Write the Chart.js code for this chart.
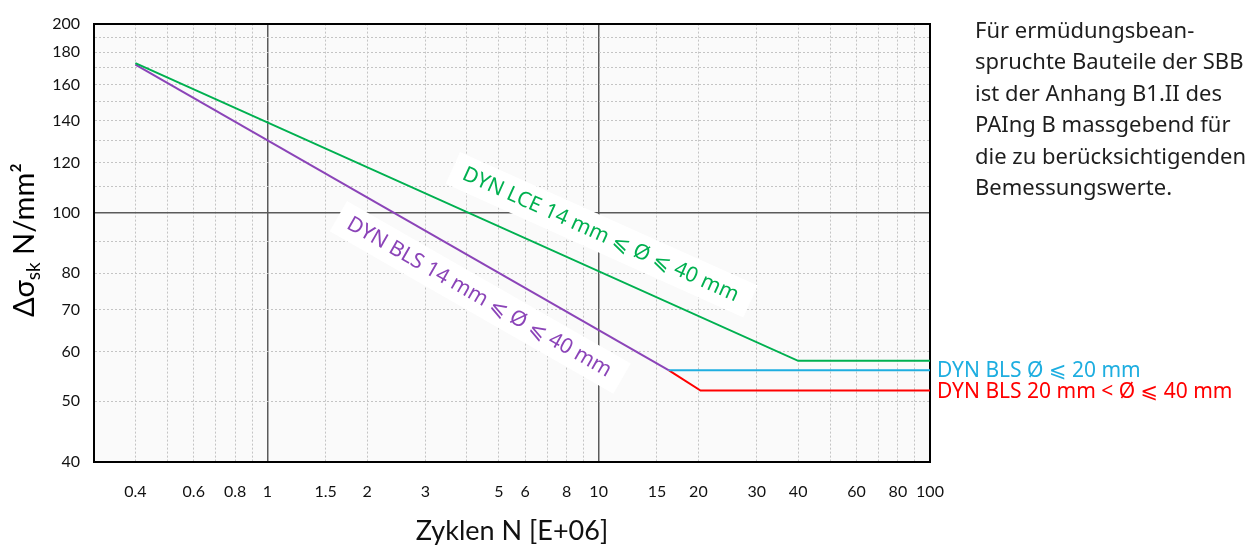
<!DOCTYPE html>
<html>
<head>
<meta charset="utf-8">
<script src="https://cdn.jsdelivr.net/npm/chart.js@4.4.1/dist/chart.umd.min.js"></script>
<style>
  html, body { margin: 0; padding: 0; background: #fff; overflow: hidden; }
  #wrap { position: relative; width: 1247px; height: 551px; overflow: hidden; }
  #note {
    position: absolute; left: 975px; top: 14px;
    font: 22px "Noto Sans", sans-serif; line-height: 31.4px;
    color: #1e1e1e; white-space: nowrap;
  }
</style>
</head>
<body>
<div id="wrap">
  <canvas id="myChart" width="1247" height="551"></canvas>
  <div id="note">Für ermüdungsbean-<br>spruchte Bauteile der SBB<br>ist der Anhang B1.II des<br>PAIng B massgebend für<br>die zu berücksichtigenden<br>Bemessungswerte.</div>
</div>
<script>
// Zyklen N [E+06] / Δσsk [N/mm²]
const lceN = [0.4, 40, 100];
const lceS = [173, 58, 58];
const blsN = [0.4, 16.3];
const blsS = [172, 56];
const bls20N = [16.3, 100];
const bls20S = [56, 56];
const bls40N = [16.3, 20.3, 100];
const bls40S = [56, 52, 52];

const xGrid = [0.4, 0.5, 0.6, 0.7, 0.8, 0.9, 1, 1.5, 2, 3, 4, 5, 6, 7, 8, 9, 10, 15, 20, 30, 40, 50, 60, 70, 80, 90, 100];
const xLabels = [0.4, 0.6, 0.8, 1, 1.5, 2, 3, 5, 6, 8, 10, 15, 20, 30, 40, 60, 80, 100];
const yGrid = [40, 50, 60, 70, 80, 90, 100, 110, 120, 130, 140, 150, 160, 170, 180, 190, 200];
const yLabels = [40, 50, 60, 70, 80, 100, 120, 140, 160, 180, 200];
const xMajor = [1, 10];
const yMajor = [100];

const GREEN = '#00b050';
const PURPLE = '#8b44b8';
const CYAN = '#1eaee0';
const RED = '#ff0000';

const pts = (xs, ys) => xs.map((x, i) => ({x: x, y: ys[i]}));

// beschriftung entlang der linien
const lineLabels = [
  {ds: 0, text: 'DYN LCE 14 mm ⩽ Ø ⩽ 40 mm', at: 9.2, off: -35, color: GREEN},
  {ds: 1, text: 'DYN BLS 14 mm ⩽ Ø ⩽ 40 mm', at: 4.85, off: 30, color: PURPLE}
];
const endLabels = [
  {ds: 2, text: 'DYN BLS Ø ⩽ 20 mm', color: CYAN},
  {ds: 3, text: 'DYN BLS 20 mm < Ø ⩽ 40 mm', color: RED}
];

const labelFont = '21px "Noto Sans", "DejaVu Sans", sans-serif';

const decoPlugin = {
  id: 'deco',
  beforeDraw(chart) {
    const {ctx, chartArea: a} = chart;
    ctx.save();
    ctx.fillStyle = '#fafafa';
    ctx.fillRect(a.left, a.top, a.right - a.left, a.bottom - a.top);
    ctx.restore();
  },
  beforeDatasetsDraw(chart) {
    const {ctx} = chart;
    const xs = chart.scales.x, ys = chart.scales.y;
    lineLabels.forEach(l => {
      const data = chart.data.datasets[l.ds].data;
      let k = 0;
      while (k < data.length - 2 && data[k + 1].x < l.at) k++;
      const p0 = {x: xs.getPixelForValue(data[k].x), y: ys.getPixelForValue(data[k].y)};
      const p1 = {x: xs.getPixelForValue(data[k + 1].x), y: ys.getPixelForValue(data[k + 1].y)};
      const ang = Math.atan2(p1.y - p0.y, p1.x - p0.x);
      const px = xs.getPixelForValue(l.at);
      const py = p0.y + (p1.y - p0.y) * (px - p0.x) / (p1.x - p0.x);
      const cx = px - Math.sin(ang) * l.off;
      const cy = py + Math.cos(ang) * l.off;
      ctx.save();
      ctx.translate(cx, cy);
      ctx.rotate(ang);
      ctx.font = labelFont;
      const w = ctx.measureText(l.text).width;
      ctx.fillStyle = '#ffffff';
      ctx.fillRect(-w / 2 - 12, -17, w + 26, 35);
      ctx.fillStyle = l.color;
      ctx.textAlign = 'center';
      ctx.textBaseline = 'middle';
      ctx.fillText(l.text, 0, 1);
      ctx.restore();
    });
  },
  afterDraw(chart) {
    const {ctx, chartArea: a} = chart;
    const ys = chart.scales.y;
    ctx.save();
    ctx.font = labelFont;
    ctx.textAlign = 'left';
    ctx.textBaseline = 'middle';
    endLabels.forEach(l => {
      const data = chart.data.datasets[l.ds].data;
      ctx.fillStyle = l.color;
      ctx.fillText(l.text, a.right + 7, ys.getPixelForValue(data[data.length - 1].y) + 1);
    });
    ctx.restore();

    // y-achsentitel mit index
    ctx.save();
    ctx.translate(34, 240);
    ctx.rotate(-Math.PI / 2);
    ctx.fillStyle = '#000';
    ctx.textBaseline = 'alphabetic';
    const big = '29px Lato, sans-serif', small = '19px Lato, sans-serif';
    ctx.font = big; const w1 = ctx.measureText('Δσ').width;
    ctx.font = small; const w2 = ctx.measureText('sk').width;
    ctx.font = big; const w3 = ctx.measureText(' N/mm²').width;
    let x0 = -(w1 + w2 + w3) / 2;
    ctx.font = big; ctx.fillText('Δσ', x0, 0); x0 += w1;
    ctx.font = small; ctx.fillText('sk', x0, 6); x0 += w2;
    ctx.font = big; ctx.fillText(' N/mm²', x0, 0);
    ctx.restore();
  }
};

const ctx = document.getElementById('myChart');
new Chart(ctx, {
  type: 'line',
  data: {
    datasets: [
      {label: 'DYN LCE', data: pts(lceN, lceS), borderColor: GREEN},
      {label: 'DYN BLS', data: pts(blsN, blsS), borderColor: PURPLE},
      {label: 'DYN BLS Ø ⩽ 20', data: pts(bls20N, bls20S), borderColor: CYAN},
      {label: 'DYN BLS 20 < Ø ⩽ 40', data: pts(bls40N, bls40S), borderColor: RED}
    ]
  },
  options: {
    responsive: false,
    animation: false,
    devicePixelRatio: 1,
    layout: {padding: {top: 19, right: 317, bottom: 0, left: 0}},
    elements: {
      line: {borderWidth: 2, tension: 0, fill: false},
      point: {radius: 0, hoverRadius: 0}
    },
    plugins: {legend: {display: false}, tooltip: {enabled: false}},
    scales: {
      x: {
        type: 'logarithmic',
        min: 0.3,
        max: 100,
        afterBuildTicks: s => { s.ticks = xGrid.map(v => ({value: v})); },
        afterFit: s => { s.height = 89; },
        ticks: {
          autoSkip: false, maxRotation: 0, padding: 20, color: '#111',
          font: {family: 'Lato', size: 16},
          callback: v => xLabels.includes(v) ? String(v) : ''
        },
        grid: {
          drawTicks: false,
          color: c => xMajor.includes(c.tick && c.tick.value) ? '#5a5a5a' : '#c4c4c4',
          lineWidth: c => xMajor.includes(c.tick && c.tick.value) ? 1.5 : 1
        },
        border: {
          color: '#000', width: 2,
          dash: c => xMajor.includes(c.tick && c.tick.value) ? [] : [2, 2]
        },
        title: {
          display: true, text: 'Zyklen N [E+06]', color: '#111',
          font: {family: 'Lato', size: 27}, padding: {top: 0, bottom: 4}
        }
      },
      y: {
        type: 'logarithmic',
        min: 40,
        max: 200,
        afterBuildTicks: s => { s.ticks = yGrid.map(v => ({value: v})); },
        afterFit: s => { s.width = 94; },
        ticks: {
          autoSkip: false, padding: 14, color: '#111',
          font: {family: 'Lato', size: 16},
          callback: v => yLabels.includes(v) ? String(v) : ''
        },
        grid: {
          drawTicks: false,
          color: c => yMajor.includes(c.tick && c.tick.value) ? '#5a5a5a' : '#c4c4c4',
          lineWidth: c => yMajor.includes(c.tick && c.tick.value) ? 1.5 : 1
        },
        border: {
          color: '#000', width: 2,
          dash: c => yMajor.includes(c.tick && c.tick.value) ? [] : [2, 2]
        }
      },
      x2: {
        type: 'linear', position: 'top', min: 0, max: 1,
        afterFit: s => { s.height = 0; },
        ticks: {display: false}, grid: {display: false, drawTicks: false},
        border: {color: '#000', width: 2}
      },
      y2: {
        type: 'linear', position: 'right', min: 0, max: 1,
        afterFit: s => { s.width = 0; },
        ticks: {display: false}, grid: {display: false, drawTicks: false},
        border: {color: '#000', width: 2}
      }
    }
  },
  plugins: [decoPlugin]
});
</script>
</body>
</html>
